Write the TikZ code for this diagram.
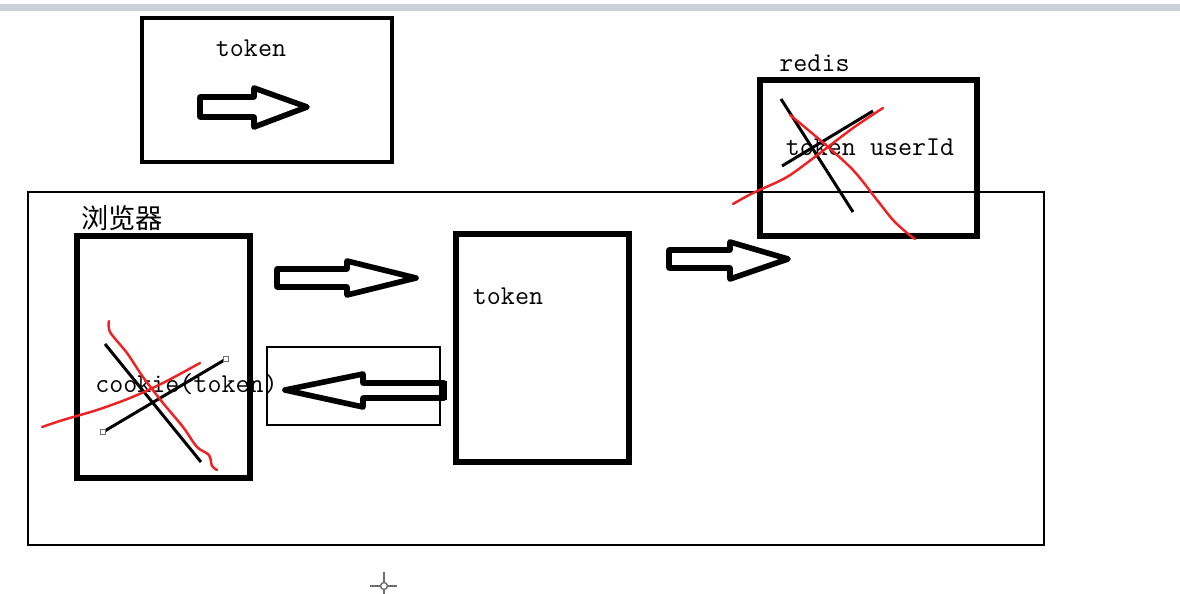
\documentclass[tikz,border=0pt]{standalone}
\usepackage{fontspec}
\usepackage{tikz}
\usetikzlibrary{positioning}
\newfontfamily\cjk{Noto Sans CJK SC}
\newcommand{\monotext}{\ttfamily\fontsize{15.5}{18}\selectfont}
\definecolor{markred}{RGB}{238,34,34}
\definecolor{barblue}{RGB}{204,208,218}
\definecolor{handlegray}{RGB}{110,110,110}

\begin{document}
\begin{tikzpicture}[
  x=0.02cm, y=-0.02cm,
  every node/.style={font=\monotext, inner sep=0pt},
  box/.style={draw, inner sep=0pt},
  hollowarrow/.style={draw, line width=3.2pt, line join=round},
  crossline/.style={line width=1.7pt},
  redmark/.style={draw=markred, line width=1.4pt, line cap=round, line join=round},
  handle/.style={draw=handlegray, fill=white, line width=0.5pt, minimum size=0.1cm}
]
\useasboundingbox (0,0) rectangle (1180,594);

% --- Felső sáv ---
\fill[barblue] (0,4) rectangle (1180,11);

% --- Dobozok ---

% Felső doboz
\node[box, line width=2pt, minimum width=5cm, minimum height=2.88cm] (tokenbox) at (267,90) {};
\node (toptoken) at (251,48) {token};

% Böngésző
\node[box, line width=1.2pt, minimum width=20.32cm, minimum height=7.06cm] (browser) at (536,368.5) {};
\node[font=\cjk\fontsize{15.5}{18}\selectfont] (browserlabel) at (122,218) {浏览器};

% Cookie doboz
\node[box, line width=3.8pt, minimum width=3.46cm, minimum height=4.84cm] (cookie) at (163.5,357) {};
\node (cookietext) at (186.5,384) {cookie(token)};

% Kis doboz a visszairányú nyíllal
\node[box, line width=1.4pt, minimum width=3.46cm, minimum height=1.56cm] (reply) at (353.5,386) {};

% Szerver doboz
\node[box, line width=3.8pt, minimum width=3.46cm, minimum height=4.56cm] (server) at (542.5,348) {};
\node (servertoken) at (508,296) {token};

% Redis doboz
\node[box, line width=3.8pt, minimum width=4.34cm, minimum height=3.12cm] (redis) at (868.5,158) {};
\node (redislabel) at (814.5,63) {redis};
\node (redistext) at (870,147) {token userId};

% --- Üreges nyilak ---

% Felső dobozban
\draw[hollowarrow] (200,97) -- (254,97) -- (254,88) -- (307,107) -- (254,127) -- (254,117) -- (200,117) -- cycle;

% Böngésző -> szerver
\draw[hollowarrow] (277,269) -- (347,269) -- (347,261) -- (416,278) -- (347,295) -- (347,287) -- (277,287) -- cycle;

% Szerver -> böngésző (kis dobozban)
\draw[hollowarrow] (444,383) -- (363,383) -- (363,374) -- (285,390) -- (363,407) -- (363,398) -- (444,398) -- cycle;
\fill (440,381) rectangle (447,400);

% Szerver -> redis
\draw[hollowarrow] (669,250) -- (730,250) -- (730,242) -- (788,259) -- (730,279) -- (730,268) -- (669,268) -- cycle;

% --- Áthúzások ---

% Cookie doboz
\draw[crossline] (105,344) -- (201,462);
\draw[crossline] (103,432) -- (226,359);
\node[handle] (handleA) at (103,432) {};
\node[handle] (handleB) at (226,359) {};
\draw[redmark] plot[smooth] coordinates {(109,321) (110,332) (127,353) (143,377) (163,403) (183,427) (197,447) (209,455) (212,466) (217,470)};
\draw[redmark] plot[smooth] coordinates {(42,427) (63,420) (97,410) (130,398) (163,383) (200,363)};

% Redis doboz
\draw[crossline] (781,99) -- (853,212);
\draw[crossline] (782,166) -- (873,111);
\draw[redmark] plot[smooth] coordinates {(733,204) (753,193) (787,177) (820,153) (853,128) (883,108)};
\draw[redmark] plot[smooth] coordinates {(790,115) (820,140) (853,170) (877,200) (893,220) (907,233) (915,239)};

% --- Egérkurzor ---
\draw[handlegray, line width=0.8pt] (384,572) -- (384,594);
\draw[handlegray, line width=0.8pt] (370,586) -- (397,586);
\draw[handlegray, fill=white, line width=0.8pt] (384,586) circle[radius=3.5];

\end{tikzpicture}
\end{document}
